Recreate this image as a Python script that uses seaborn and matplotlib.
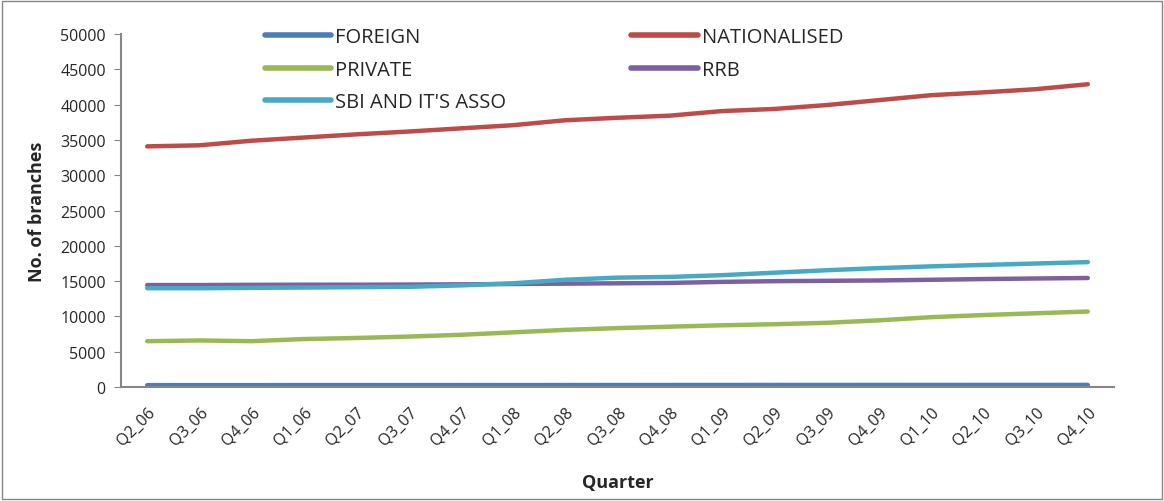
import matplotlib
matplotlib.use("Agg")
import matplotlib.pyplot as plt
import seaborn as sns
import pandas as pd

quarters = ["Q2_06", "Q3_06", "Q4_06", "Q1_06", "Q2_07", "Q3_07", "Q4_07", "Q1_08", "Q2_08", "Q3_08",
            "Q4_08", "Q1_09", "Q2_09", "Q3_09", "Q4_09", "Q1_10", "Q2_10", "Q3_10", "Q4_10"]

foreign = [270, 272, 273, 275, 276, 278, 280, 282, 284, 286, 288, 290, 292, 293, 295, 296, 298, 299, 300]
nationalised = [34100, 34250, 34900, 35350, 35800, 36200, 36650, 37100, 37800, 38150, 38450, 39100, 39400,
                39950, 40650, 41350, 41750, 42200, 42900]
private = [6500, 6600, 6500, 6800, 6950, 7150, 7400, 7750, 8100, 8350, 8550, 8750, 8900, 9100, 9450,
           9900, 10200, 10450, 10700]
rrb = [14450, 14450, 14480, 14500, 14500, 14520, 14550, 14600, 14650, 14700, 14750, 14900, 15000, 15050,
       15100, 15200, 15300, 15380, 15450]
sbi = [14000, 14000, 14050, 14100, 14150, 14200, 14400, 14700, 15200, 15500, 15600, 15850, 16200, 16550,
       16850, 17100, 17300, 17500, 17700]

series = {
    "FOREIGN": foreign,
    "NATIONALISED": nationalised,
    "PRIVATE": private,
    "RRB": rrb,
    "SBI AND IT'S ASSO": sbi,
}
colors = {"FOREIGN": "#4A7EBB", "NATIONALISED": "#BE4B48", "PRIVATE": "#98B954",
          "RRB": "#7D60A0", "SBI AND IT'S ASSO": "#46AAC5"}

rows = []
for name, vals in series.items():
    for i, v in enumerate(vals):
        rows.append({"pos": i, "Quarter": quarters[i], "series": name, "value": v})
df = pd.DataFrame(rows)

sns.set_style("white")
plt.rcParams["font.family"] = ["Open Sans", "DejaVu Sans"]

fig = plt.figure(figsize=(11.64, 5.02), dpi=100)
ax = fig.add_axes([0.104, 0.227, 0.853, 0.703])

sns.lineplot(data=df, x="pos", y="value", hue="series", palette=colors, linewidth=3.2,
             ax=ax, legend=False, solid_capstyle="round")

ax.set_xlim(-0.5, len(quarters) - 0.5)
ax.set_ylim(0, 50000)
ax.set_yticks(range(0, 50001, 5000))
ax.set_xticks(range(len(quarters)))
ax.set_xticklabels(quarters, rotation=45, ha="right", rotation_mode="anchor", fontsize=11.5)
ax.tick_params(axis="y", labelsize=11.5, length=5, color="#868686", direction="out", left=True, pad=6)
ax.tick_params(axis="x", length=0, pad=12)

for s in ["top", "right"]:
    ax.spines[s].set_visible(False)
for s in ["left", "bottom"]:
    ax.spines[s].set_color("#868686")
    ax.spines[s].set_linewidth(1.5)

ax.set_xlabel("Quarter", fontsize=13, fontweight="bold", labelpad=18)
ax.set_ylabel("No. of branches", fontsize=13, fontweight="bold", labelpad=10)

# column-major fill: first column FOREIGN/PRIVATE/SBI, second NATIONALISED/RRB
order = ["FOREIGN", "PRIVATE", "SBI AND IT'S ASSO", "NATIONALISED", "RRB"]
handles = [plt.Line2D([0], [0], color=colors[n], lw=4, solid_capstyle="round") for n in order]
fig.legend(handles, order, ncol=2, loc="upper left", bbox_to_anchor=(0.212, 0.98),
           frameon=False, fontsize=14.5, handlelength=3.3, handletextpad=0.2, columnspacing=6.2,
           labelspacing=0.62)

border = plt.Rectangle((0.002, 0.003), 0.996, 0.994, transform=fig.transFigure, fill=False,
                       edgecolor="#868686", linewidth=1)
fig.patches.append(border)

fig.savefig("out.png", dpi=100)
